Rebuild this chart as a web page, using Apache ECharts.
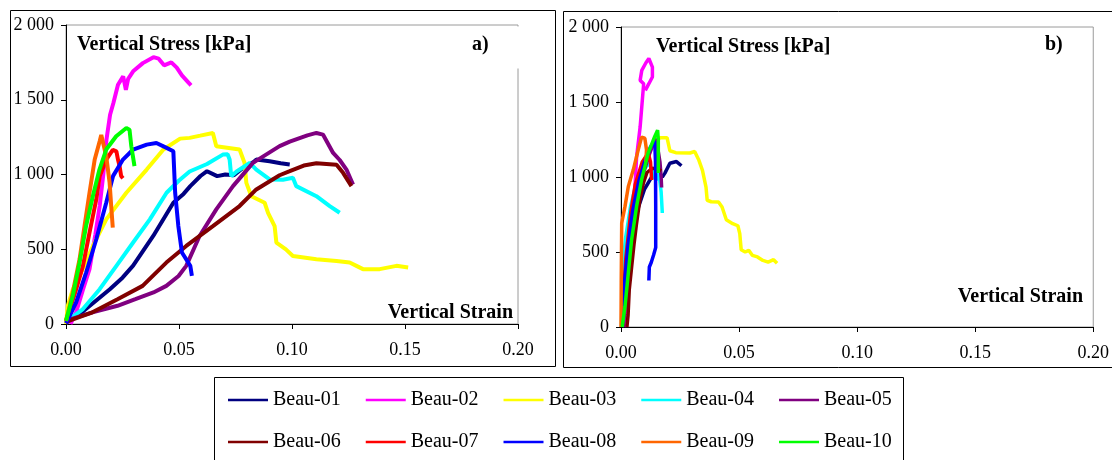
<!DOCTYPE html>
<html>
<head>
<meta charset="utf-8">
<script src="https://cdn.jsdelivr.net/npm/echarts@6/dist/echarts.min.js"></script>
<style>
html,body{margin:0;padding:0;background:#fff;}
#c{width:1112px;height:460px;}
</style>
</head>
<body>
<div id="c"></div>
<script>
// ---- data ----
const seriesNames = ['Beau-01','Beau-02','Beau-03','Beau-04','Beau-05','Beau-06','Beau-07','Beau-08','Beau-09','Beau-10'];
const seriesColors = ['#000080','#FF00FF','#FFFF00','#00FFFF','#800080','#800000','#FF0000','#0000FF','#FF6600','#00FF00'];
const xTicks = [0, 0.05, 0.10, 0.15, 0.20];
const yTicks = [0, 500, 1000, 1500, 2000];

// Panel a) [strain, stress kPa]
const a01 = [[0,10],[0.003,33],[0.008,90],[0.0194,233],[0.025,310],[0.0297,390],[0.0386,589],[0.0475,811],[0.052,870],[0.055,922],[0.0595,990],[0.0624,1022],[0.0669,989],[0.0705,1000],[0.0743,995],[0.078,1040],[0.0832,1085],[0.0842,1100],[0.0901,1089],[0.095,1075],[0.099,1067]];
const a02 = [[0.002,0],[0.0045,80],[0.0075,230],[0.0104,367],[0.013,600],[0.0149,789],[0.0165,1000],[0.0179,1233],[0.0195,1400],[0.021,1480],[0.023,1600],[0.0253,1656],[0.0265,1567],[0.0275,1640],[0.0297,1690],[0.034,1745],[0.0387,1785],[0.041,1775],[0.0434,1730],[0.0466,1750],[0.049,1715],[0.0513,1663],[0.0545,1610],[0.0553,1596]];
const a03 = [[0,0],[0.0008,122],[0.003,230],[0.006,322],[0.0119,522],[0.0178,700],[0.0267,878],[0.0357,1033],[0.0431,1167],[0.0505,1240],[0.0547,1245],[0.0594,1260],[0.065,1278],[0.0665,1189],[0.0768,1167],[0.079,1078],[0.0798,944],[0.082,855],[0.0879,811],[0.0894,744],[0.0923,655],[0.0931,544],[0.0973,499],[0.1004,455],[0.1108,433],[0.1197,422],[0.1255,411],[0.1285,389],[0.1314,367],[0.1388,367],[0.1462,389],[0.1514,378]];
const a04 = [[0,15],[0.0008,25],[0.0075,100],[0.0149,233],[0.0223,389],[0.0297,545],[0.0371,700],[0.0445,878],[0.05,960],[0.0547,1020],[0.0624,1070],[0.0694,1133],[0.0715,1135],[0.0724,1100],[0.0731,989],[0.0755,1020],[0.0813,1078],[0.0842,1033],[0.0901,967],[0.0960,965],[0.1004,978],[0.1019,922],[0.1108,855],[0.1167,789],[0.1211,744]];
const a05 = [[0,10],[0.0022,33],[0.0117,78],[0.0228,122],[0.0307,166],[0.0387,211],[0.0444,255],[0.0498,321],[0.0532,389],[0.0591,589],[0.0665,767],[0.0739,922],[0.0827,1078],[0.0945,1190],[0.099,1220],[0.1068,1262],[0.1108,1278],[0.1137,1267],[0.1182,1144],[0.1211,1097],[0.1241,1033],[0.127,933]];
const a06 = [[0,15],[0.0006,22],[0.0117,78],[0.0228,166],[0.0339,255],[0.0444,411],[0.0532,522],[0.065,655],[0.0768,789],[0.0842,900],[0.0945,995],[0.099,1022],[0.1052,1060],[0.1108,1075],[0.1197,1065],[0.1226,1011],[0.1263,922]];
const a07 = [[0,20],[0.0008,55],[0.0045,233],[0.0075,389],[0.0104,611],[0.0134,833],[0.0149,989],[0.0178,1100],[0.0207,1165],[0.0223,1155],[0.023,1100],[0.0237,1056],[0.0244,990],[0.0252,975]];
const a08 = [[0,5],[0.0008,11],[0.0045,144],[0.0089,344],[0.0134,567],[0.0178,811],[0.0208,989],[0.0252,1100],[0.0297,1167],[0.0357,1200],[0.04,1211],[0.0445,1178],[0.0475,1155],[0.0483,878],[0.0497,656],[0.0513,478],[0.055,389],[0.0557,322]];
const a09 = [[0,20],[0.001,80],[0.003,211],[0.006,433],[0.0082,656],[0.0104,878],[0.0127,1100],[0.0149,1222],[0.0156,1265],[0.0164,1256],[0.0178,1122],[0.0193,944],[0.02,789],[0.0207,644]];
const a10 = [[0,22],[0.003,189],[0.006,411],[0.0089,656],[0.0119,856],[0.0148,1033],[0.0178,1167],[0.0222,1256],[0.0267,1311],[0.0281,1300],[0.0289,1189],[0.0303,1056]];

// Panel b) [strain, stress kPa]
const b01 = [[0.0005,0],[0.001,100],[0.002,300],[0.004,550],[0.007,780],[0.01,920],[0.013,1000],[0.016,1030],[0.0175,1000],[0.0186,1026],[0.0207,1092],[0.0235,1103],[0.0256,1075]];
const b02 = [[0.0015,0],[0.003,250],[0.0045,600],[0.0058,900],[0.0066,1133],[0.0081,1333],[0.0088,1467],[0.0096,1622],[0.0081,1644],[0.0088,1711],[0.0105,1760],[0.0118,1790],[0.0133,1733],[0.0133,1667],[0.0118,1622],[0.0103,1578]];
const b03 = [[0.0003,0],[0.0005,150],[0.001,300],[0.002,500],[0.004,750],[0.007,950],[0.01,1100],[0.013,1200],[0.0165,1262],[0.0195,1262],[0.0207,1175],[0.0232,1162],[0.0292,1160],[0.0312,1170],[0.033,1111],[0.0345,1044],[0.036,933],[0.0365,845],[0.0382,835],[0.0413,833],[0.0428,800],[0.0446,715],[0.0473,689],[0.0495,675],[0.0503,622],[0.0509,515],[0.0526,500],[0.0541,511],[0.0556,478],[0.0578,467],[0.0601,444],[0.0623,433],[0.0646,449],[0.0661,425]];
const b04 = [[0.0002,0],[0.0005,250],[0.001,450],[0.002,600],[0.004,800],[0.006,930],[0.009,1030],[0.0115,1090],[0.013,1060],[0.0135,1010],[0.015,980],[0.016,1030],[0.017,900],[0.0175,760]];
const b05 = [[0.001,0],[0.002,200],[0.004,550],[0.006,800],[0.009,1000],[0.012,1150],[0.0145,1255],[0.0155,1200],[0.0165,1100],[0.017,1000],[0.0172,930]];
const b06 = [[0.0025,0],[0.003,80],[0.0035,250],[0.0045,400],[0.0055,550],[0.0065,680],[0.008,850],[0.0095,960],[0.011,1030],[0.013,1055],[0.015,1060],[0.017,1040]];
const b07 = [[0.0005,0],[0.001,200],[0.002,450],[0.004,750],[0.006,950],[0.009,1100],[0.0115,1160],[0.0125,1100],[0.013,980]];
const b08 = [[0.0003,0],[0.0008,150],[0.0015,300],[0.003,550],[0.005,780],[0.0075,970],[0.01,1100],[0.0125,1200],[0.0143,1240],[0.0146,1100],[0.0147,800],[0.0147,530],[0.0138,480],[0.0128,430],[0.012,400],[0.0118,310]];
const b09 = [[0,0],[0.0001,300],[0.0003,693],[0.0017,804],[0.0031,937],[0.0052,1048],[0.0073,1181],[0.0087,1265],[0.0101,1259],[0.0108,1181],[0.0105,1100]];
const b10 = [[0.0005,0],[0.001,4],[0.0017,138],[0.0031,360],[0.0045,582],[0.0066,804],[0.0087,981],[0.0115,1159],[0.0143,1270],[0.0155,1312],[0.0158,1250],[0.0158,1026]];

const panelA = [a01,a02,a03,a04,a05,a06,a07,a08,a09,a10];
const panelB = [b01,b02,b03,b04,b05,b06,b07,b08,b09,b10];

// ---- chart ----
const FONT = 'Liberation Serif';
const chart = echarts.init(document.getElementById('c'), null, {renderer:'canvas'});

function yFmt(v){
  if (v >= 1000) return Math.floor(v/1000) + ' ' + String(v % 1000).padStart(3,'0');
  return String(v);
}
function xAxisDef(gi){
  return {
    type:'value', gridIndex:gi, min:xTicks[0], max:xTicks[xTicks.length-1], interval:0.05,
    axisLine:{show:true, onZero:false, lineStyle:{color:'#000', width:1}},
    axisTick:{show:true, inside:false, length:5, lineStyle:{color:'#000'}},
    axisLabel:{show:true, margin:17, color:'#000', fontFamily:FONT, fontSize:18,
      formatter:v=>v.toFixed(2)},
    splitLine:{show:false}
  };
}
function yAxisDef(gi){
  return {
    type:'value', gridIndex:gi, min:yTicks[0], max:yTicks[yTicks.length-1], interval:500,
    axisLine:{show:true, lineStyle:{color:'#000', width:1}},
    axisTick:{show:true, inside:false, length:5, lineStyle:{color:'#000'}},
    axisLabel:{show:true, margin:12, color:'#000', fontFamily:FONT, fontSize:18, formatter:yFmt},
    splitLine:{show:false}
  };
}

const series = [];
panelA.forEach((d,i)=>{
  series.push({name:seriesNames[i], type:'line', xAxisIndex:0, yAxisIndex:0, data:d,
    symbol:'none', smooth:false, animation:false,
    lineStyle:{color:seriesColors[i], width:4}, itemStyle:{color:seriesColors[i]}});
});
panelB.forEach((d,i)=>{
  series.push({name:seriesNames[i], type:'line', xAxisIndex:1, yAxisIndex:1, data:d,
    symbol:'none', smooth:false, animation:false,
    lineStyle:{color:seriesColors[i], width:3.5}, itemStyle:{color:seriesColors[i]}});
});

const legendCommon = {
  orient:'horizontal', itemWidth:40, itemHeight:2.5, itemGap:25, padding:0,
  selectedMode:false, icon:'rect',
  textStyle:{fontFamily:FONT, fontSize:20, color:'#000'}
};

const boldText = (x,y,text,align)=>({
  type:'text', x:x, y:y, silent:true,
  style:{text:text, fill:'#000', font:'bold 20px "Liberation Serif"', textAlign:align||'left', textVerticalAlign:'middle'}
});

chart.setOption({
  backgroundColor:'#fff',
  animation:false,
  grid:[
    {left:66, top:25, width:452, height:299, show:true, borderColor:'#9a9a9a', borderWidth:1, backgroundColor:'transparent', containLabel:false},
    {left:621, top:27, width:474, height:300, show:true, borderColor:'#9a9a9a', borderWidth:1, backgroundColor:'transparent', containLabel:false}
  ],
  xAxis:[xAxisDef(0), xAxisDef(1)],
  yAxis:[yAxisDef(0), yAxisDef(1)],
  legend:[
    Object.assign({}, legendCommon, {data:seriesNames.slice(0,5).map(n=>({name:n, icon:'rect', itemStyle:{color:seriesColors[seriesNames.indexOf(n)]}})), left:228, top:390}),
    Object.assign({}, legendCommon, {data:seriesNames.slice(5).map(n=>({name:n, icon:'rect', itemStyle:{color:seriesColors[seriesNames.indexOf(n)]}})), left:228, top:432})
  ],
  series:series,
  graphic:[
    {type:'rect', shape:{x:10.5, y:10.5, width:545, height:356}, style:{fill:'none', stroke:'#000', lineWidth:1}, silent:true, z:100},
    {type:'rect', shape:{x:563.5, y:11.5, width:560, height:356}, style:{fill:'none', stroke:'#000', lineWidth:1}, silent:true, z:100},
    {type:'rect', shape:{x:214.5, y:377.5, width:689, height:100}, style:{fill:'none', stroke:'#000', lineWidth:1}, silent:true, z:100},
    {type:'rect', shape:{x:515, y:26.5, width:6, height:42}, style:{fill:'#fff'}, silent:true, z:50},
    boldText(77,45,'Vertical Stress [kPa]'),
    boldText(472,45,'a)'),
    boldText(513,313,'Vertical Strain','right'),
    boldText(656,47,'Vertical Stress [kPa]'),
    boldText(1045,45,'b)'),
    boldText(1083,297,'Vertical Strain','right')
  ]
});
</script>
</body>
</html>
